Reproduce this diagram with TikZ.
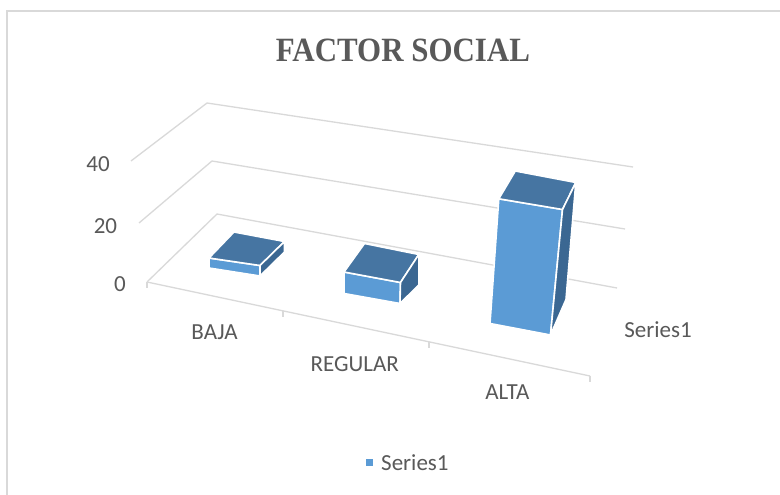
\documentclass[tikz,border=0pt]{standalone}
\usepackage{fontspec}
\setmainfont{Carlito}
\newfontfamily\titlefont{Liberation Serif}
\definecolor{gridc}{HTML}{D9D9D9}
\definecolor{txtc}{HTML}{595959}
\definecolor{frontc}{HTML}{5B9BD5}
\definecolor{topc}{HTML}{4675A2}
\definecolor{sidec}{HTML}{3B6792}
\tikzset{
  gridline/.style={draw=gridc, line width=1.3pt},
  face/.style={draw=white, line width=1.6pt, line join=miter},
  lbl/.style={inner sep=0pt, text=txtc, font=\fontsize{23}{23}\selectfont},
}
\begin{document}
\begin{tikzpicture}[x=1pt,y=-1pt]
\useasboundingbox (0,0) rectangle (780,495);
\fill[white] (0,0) rectangle (780,495);
% frame
\coordinate (fbl) at (7,496);
\coordinate (ftl) at (7,11);
\coordinate (ftr) at (781,11);
\draw[draw=gridc, line width=1.5pt] (fbl) -- (ftl) -- (ftr);
% title
\node[inner sep=0pt, anchor=base, text=txtc] (title) at (402.9,61.7)
  {\scalebox{0.91}[1]{\titlefont\bfseries\fontsize{34}{34}\selectfont FACTOR SOCIAL}};
% gridlines
\coordinate (g0a) at (147,282); \coordinate (g0b) at (217,214); \coordinate (g0c) at (617,288);
\coordinate (g1a) at (139,223); \coordinate (g1b) at (212,161); \coordinate (g1c) at (625,229);
\coordinate (g2a) at (131,161); \coordinate (g2b) at (207,103); \coordinate (g2c) at (633,167);
\draw[gridline] (g0a) -- (g0b) -- (g0c);
\draw[gridline] (g1a) -- (g1b) -- (g1c);
\draw[gridline] (g2a) -- (g2b) -- (g2c);
% front axis with ticks
\coordinate (ax0) at (147,282); \coordinate (ax1) at (283,310.9);
\coordinate (ax2) at (429,341.8); \coordinate (ax3) at (590,376);
\draw[gridline] (ax0) -- (ax3);
\foreach \p in {ax0,ax1,ax2,ax3} \draw[gridline] (\p) -- ++(0,6);
% axis labels
\node[lbl, anchor=base east] (l40) at (110,171.7) {40};
\node[lbl, anchor=base east] (l20) at (117.3,233) {20};
\node[lbl, anchor=base east] (l0) at (126,291) {0};
\node[lbl, anchor=base] (cbaja) at (214.5,339) {BAJA};
\node[lbl, anchor=base] (creg) at (354.7,371) {REGULAR};
\node[lbl, anchor=base] (calta) at (507.4,399.5) {ALTA};
\node[lbl, anchor=base] (cser) at (658,337.3) {Series1};
% BAJA bar
\coordinate (a1) at (209,258); \coordinate (a2) at (260,265.5);
\coordinate (a3) at (260,276); \coordinate (a4) at (209,268);
\coordinate (a5) at (234,232); \coordinate (a6) at (284.5,241.5);
\coordinate (a7) at (284.5,252);
\filldraw[face, fill=frontc] (a1) -- (a2) -- (a3) -- (a4) -- cycle;
\filldraw[face, fill=topc] (a1) -- (a2) -- (a6) -- (a5) -- cycle;
\filldraw[face, fill=sidec] (a2) -- (a6) -- (a7) -- (a3) -- cycle;
% REGULAR bar
\coordinate (b1) at (344,272); \coordinate (b2) at (400.5,282.5);
\coordinate (b3) at (400,303.5); \coordinate (b4) at (344,293.5);
\coordinate (b5) at (364.5,243.5); \coordinate (b6) at (418.8,254.5);
\coordinate (b7) at (418.8,285);
\filldraw[face, fill=frontc] (b1) -- (b2) -- (b3) -- (b4) -- cycle;
\filldraw[face, fill=topc] (b1) -- (b2) -- (b6) -- (b5) -- cycle;
\filldraw[face, fill=sidec] (b2) -- (b6) -- (b7) -- (b3) -- cycle;
% ALTA bar
\coordinate (c1) at (498.8,198.8); \coordinate (c2) at (562.5,209.5);
\coordinate (c3) at (550.5,335); \coordinate (c4) at (490,323.5);
\coordinate (c5) at (515.3,171); \coordinate (c6) at (575.8,182.5);
\coordinate (c7) at (566,299.5);
\filldraw[face, fill=frontc] (c1) -- (c2) -- (c3) -- (c4) -- cycle;
\filldraw[face, fill=topc] (c1) -- (c2) -- (c6) -- (c5) -- cycle;
\filldraw[face, fill=sidec] (c2) -- (c6) -- (c7) -- (c3) -- cycle;
% legend
\fill[frontc] (366,459) rectangle (373,466);
\node[lbl, anchor=base west] (leg) at (381,470.7) {Series1};
\end{tikzpicture}
\end{document}
